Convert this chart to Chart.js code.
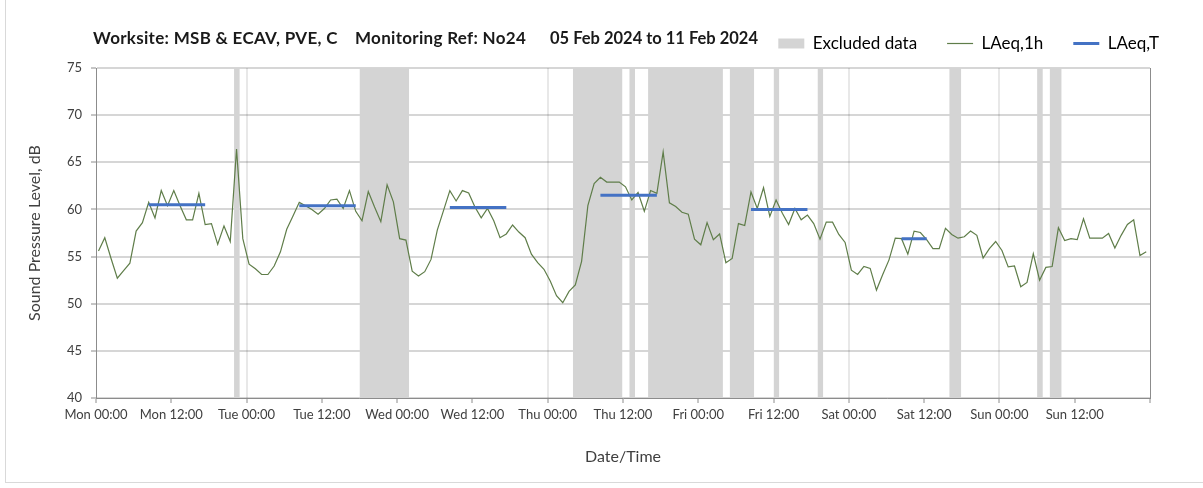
<!DOCTYPE html>
<html>
<head>
<meta charset="utf-8">
<title>LAeq chart</title>
<script src="https://cdn.jsdelivr.net/npm/chart.js@4.4.1/dist/chart.umd.min.js"></script>
<style>
  html, body { margin: 0; padding: 0; background: #fff; }
  #wrap { position: relative; width: 1203px; height: 488px; }
  #frame { position: absolute; left: 5px; top: -1px; width: 1210px; height: 483px;
    border-left: 1px solid #d9d9d9; border-bottom: 1px solid #d9d9d9; pointer-events: none; }
  .ttl { position: absolute; top: 28px; font: bold 17px Lato, sans-serif; line-height: 20px;
    letter-spacing: 0.3px; color: #1a1a1a; white-space: nowrap; }
</style>
</head>
<body>
<div id="wrap">
  <canvas id="noiseChart"></canvas>
  <div class="ttl" style="left:93px">Worksite: MSB &amp; ECAV, PVE, C</div>
  <div class="ttl" style="left:355px">Monitoring Ref: No24</div>
  <div class="ttl" style="left:550px; letter-spacing:0; font-size:16.5px">05 Feb 2024 to 11 Feb 2024</div>
  <div id="frame"></div>
</div>
<script>
// hourly LAeq,1h from Mon 05 Feb 00:00, one value per hour (168 h)
const laeq1h = [
  55.6, 57.0, 54.8, 52.7, 53.5, 54.3, 57.7, 58.6, 60.75, 59.1, 62.0, 60.4,
  62.0, 60.4, 58.9, 58.9, 61.7, 58.4, 58.5, 56.3, 58.25, 56.6, 66.4, 56.9,
  54.2, 53.7, 53.1, 53.1, 54.0, 55.5, 57.9, 59.3, 60.75, 60.4, 60.0, 59.5,
  60.1, 61.0, 61.1, 60.1, 62.0, 59.8, 58.8, 61.9, 60.25, 58.7, 62.6, 60.8,
  56.9, 56.75, 53.45, 52.95, 53.4, 54.7, 57.8, 59.9, 62.0, 60.9, 62.0, 61.75,
  60.25, 59.1, 60.1, 58.8, 57.0, 57.4, 58.35, 57.6, 57.0, 55.25, 54.35, 53.65,
  52.4, 50.85, 50.1, 51.3, 52.0, 54.5, 60.4, 62.75, 63.4, 62.9, 62.9, 62.9,
  62.4, 61.0, 61.8, 59.8, 62.0, 61.7, 66.1, 60.7, 60.3, 59.7, 59.5, 56.85,
  56.25, 58.6, 56.8, 57.4, 54.35, 54.8, 58.5, 58.3, 61.85, 60.1, 62.3, 59.25,
  61.0, 59.6, 58.4, 60.1, 58.9, 59.4, 58.5, 56.85, 58.65, 58.65, 57.35, 56.5,
  53.55, 53.1, 53.95, 53.75, 51.45, 53.1, 54.65, 56.95, 56.9, 55.25, 57.7, 57.55,
  56.8, 55.85, 55.85, 58.0, 57.35, 56.95, 57.1, 57.7, 57.25, 54.85, 55.85, 56.6,
  55.65, 53.9, 54.0, 51.8, 52.25, 55.3, 52.5, 53.85, 53.95, 58.05, 56.7, 56.9,
  56.8, 59.0, 56.95, 56.95, 56.95, 57.45, 55.9, 57.25, 58.4, 58.9, 55.1, 55.5
];

// LAeq,T periods (first and last hour index, level)
const periodStart = [8, 32, 56, 80, 104, 128];
const periodEnd = [17, 41, 65, 89, 113, 132];
const laeqT = [60.5, 60.4, 60.2, 61.5, 60.0, 56.9];

// excluded data, hour index ranges
const excludedFrom = [22, 42, 76, 85, 88, 101, 108, 115, 136, 150, 152];
const excludedTo = [22, 49, 83, 85, 99, 104, 108, 115, 137, 150, 153];

const dayNames = ["Mon", "Tue", "Wed", "Thu", "Fri", "Sat", "Sun"];

const POINT_OFFSET = 0.4;
const BAND_END = 0.92;
const Y_MIN = 40;
const Y_MAX = 75;

const green = "#5f7d49";
const blue = "#4472c4";
const bandColor = "#d4d4d4";
const axisColor = "#8c8c8c";
const textColor = "#404040";

const lineData = laeq1h.map((v, i) => ({ x: i + POINT_OFFSET, y: v }));

const periodData = [];
periodStart.forEach((s, k) => {
  periodData.push({ x: s + POINT_OFFSET, y: laeqT[k] });
  periodData.push({ x: periodEnd[k] + POINT_OFFSET, y: laeqT[k] });
  periodData.push({ x: periodEnd[k] + POINT_OFFSET, y: null });
});

const bandData = [];
excludedFrom.forEach((f, k) => {
  bandData.push({ x: f, y: Y_MAX });
  bandData.push({ x: excludedTo[k] + BAND_END, y: Y_MAX });
  bandData.push({ x: excludedTo[k] + BAND_END, y: null });
});

Chart.defaults.font.family = "Lato, sans-serif";
Chart.defaults.color = textColor;

const legendSpacer = {
  id: "legendSpacer",
  beforeInit(chart) {
    const fit = chart.legend.fit;
    chart.legend.fit = function () {
      fit.call(this);
      this.height += 6;
    };
  },
};

const ctx = document.getElementById("noiseChart").getContext("2d");
new Chart(ctx, {
  type: "line",
  data: {
    datasets: [
      {
        label: "Excluded data",
        data: bandData,
        borderWidth: 0,
        borderColor: bandColor,
        backgroundColor: bandColor,
        pointRadius: 0,
        fill: "start",
        spanGaps: false,
        order: 3,
      },
      {
        label: "LAeq,1h",
        data: lineData,
        borderColor: green,
        backgroundColor: green,
        borderWidth: 1.2,
        pointRadius: 0,
        tension: 0,
        fill: false,
        order: 2,
      },
      {
        label: "LAeq,T",
        data: periodData,
        borderColor: blue,
        backgroundColor: blue,
        borderWidth: 3,
        pointRadius: 0,
        spanGaps: false,
        fill: false,
        order: 1,
      },
    ],
  },
  options: {
    responsive: true,
    maintainAspectRatio: false,
    animation: false,
    layout: { padding: { top: 5, left: 0, right: 14, bottom: 0 } },
    plugins: {
      title: { display: false },
      tooltip: { enabled: false },
      legend: {
        position: "top",
        align: "end",
        labels: {
          usePointStyle: true,
          pointStyleWidth: 26,
          boxHeight: 10,
          padding: 30,
          color: "#333333",
          font: { size: 17 },
          generateLabels: () => [
            { text: "Excluded data", fillStyle: bandColor, strokeStyle: bandColor, lineWidth: 0, pointStyle: "rect", hidden: false, datasetIndex: 0 },
            { text: "LAeq,1h", fillStyle: green, strokeStyle: green, lineWidth: 1.2, pointStyle: "line", hidden: false, datasetIndex: 1 },
            { text: "LAeq,T", fillStyle: blue, strokeStyle: blue, lineWidth: 3, pointStyle: "line", hidden: false, datasetIndex: 2 },
          ],
        },
      },
    },
    scales: {
      x: {
        type: "linear",
        min: 0,
        max: 168,
        z: 1,
        afterFit: (scale) => { scale.height = 90; },
        ticks: {
          stepSize: 12,
          autoSkip: false,
          maxRotation: 0,
          padding: 4,
          color: textColor,
          font: { size: 13 },
          callback: (v) => {
            if (v >= 168) return "";
            return dayNames[Math.floor(v / 24)] + (v % 24 === 0 ? " 00:00" : " 12:00");
          },
        },
        grid: {
          color: (c) => (c.tick && c.tick.value % 24 === 0 && c.tick.value > 0 && c.tick.value < 168 ? "rgba(0,0,0,0.09)" : "rgba(0,0,0,0)"),
          lineWidth: 2,
          tickColor: axisColor,
          tickWidth: 1,
          tickLength: 5,
        },
        border: { color: axisColor, width: 1 },
        title: {
          display: true,
          text: "Date/Time",
          color: textColor,
          font: { size: 16 },
          padding: { top: 0, bottom: 22 },
        },
      },
      y: {
        min: Y_MIN,
        max: Y_MAX,
        z: 1,
        afterFit: (scale) => { scale.width = 96; },
        ticks: { stepSize: 5, padding: 9, color: textColor, font: { size: 13 } },
        grid: {
          color: "rgba(0,0,0,0.16)",
          lineWidth: 2,
          tickColor: axisColor,
          tickWidth: 1,
          tickLength: 5,
        },
        border: { color: axisColor, width: 1 },
        title: {
          display: true,
          text: "Sound Pressure Level, dB",
          color: textColor,
          font: { size: 16 },
          padding: { top: 25, bottom: 0 },
        },
      },
      yR: {
        position: "right",
        min: Y_MIN,
        max: Y_MAX,
        z: 1,
        afterFit: (scale) => { scale.width = 39; },
        ticks: { display: false },
        grid: { drawOnChartArea: false, drawTicks: false },
        border: { color: axisColor, width: 1 },
      },
    },
  },
  plugins: [legendSpacer],
});
</script>
</body>
</html>
